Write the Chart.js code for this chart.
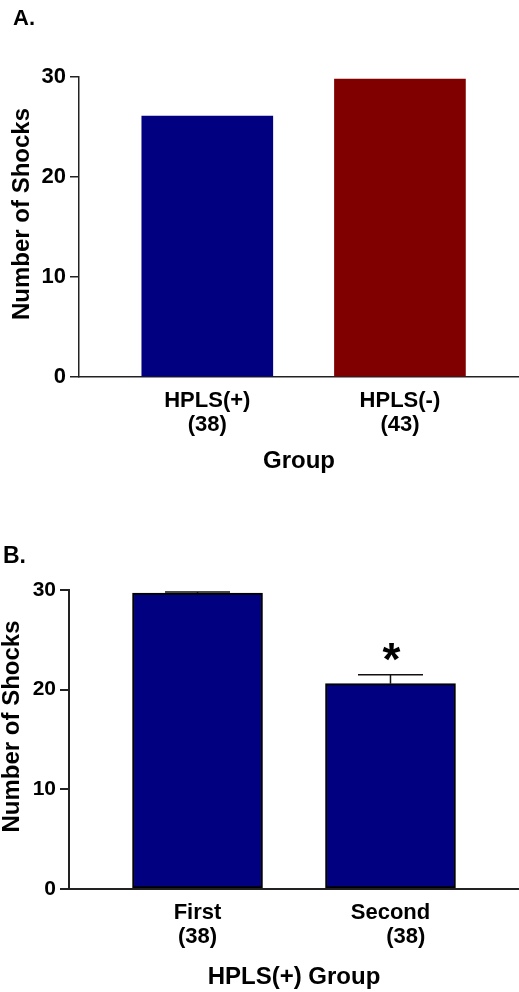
<!DOCTYPE html>
<html>
<head>
<meta charset="utf-8">
<script src="https://cdn.jsdelivr.net/npm/chart.js@4"></script>
<style>
  html, body { margin: 0; padding: 0; background: #fff; }
  canvas { display: block; }
</style>
</head>
<body>
<canvas id="panelA" width="519" height="496"></canvas>
<canvas id="panelB" width="519" height="496"></canvas>
<script>
// Panel A: shocks by HPLS group
const groupsA = ['HPLS(+)', 'HPLS(-)'];
const countsA = ['(38)', '(43)'];
const shocksA = [26.1, 29.8];
const colorsA = ['#000080', '#800000'];

// Panel B: first vs second session within HPLS(+)
const sessionsB = ['First', 'Second'];
const countsB = ['(38)', '(38)'];
const shocksB = [29.7, 20.6];
const semB = [0.1, 0.9];
const starsB = ['', '*'];

const yTicks = [0, 10, 20, 30];
const FONT = '"Liberation Sans", Arial, Helvetica, sans-serif';
const AXIS = '#222';

// panel letter + rotated y title, drawn on top of the chart
const panelText = {
  id: 'panelText',
  afterDraw(chart, args, opts) {
    const { ctx, chartArea } = chart;
    ctx.save();
    ctx.fillStyle = '#000';
    ctx.font = `bold ${opts.letterSize}px ${FONT}`;
    ctx.textAlign = 'left';
    ctx.textBaseline = 'alphabetic';
    ctx.fillText(opts.letter, opts.letterX, opts.letterY);

    ctx.font = `bold ${opts.titleSize}px ${FONT}`;
    ctx.translate(opts.titleX, (chartArea.top + chartArea.bottom) / 2 + opts.titleShift);
    ctx.rotate(-Math.PI / 2);
    ctx.textAlign = 'center';
    ctx.textBaseline = 'middle';
    ctx.fillText(opts.title, 0, 0);
    ctx.restore();
  }
};

// upward SEM bars and significance marks, placed through the scales
const errorBars = {
  id: 'errorBars',
  afterDatasetsDraw(chart, args, opts) {
    if (!opts.sem) return;
    const { ctx, scales: { x, y } } = chart;
    ctx.save();
    ctx.strokeStyle = '#111';
    ctx.lineWidth = 1.5;
    opts.sem.forEach((s, i) => {
      const cx = x.getPixelForValue(i);
      const top = y.getPixelForValue(opts.means[i]);
      const tip = y.getPixelForValue(opts.means[i] + s);
      ctx.beginPath();
      ctx.moveTo(cx, top);
      ctx.lineTo(cx, tip);
      ctx.moveTo(cx - opts.capHalf, tip);
      ctx.lineTo(cx + opts.capHalf, tip);
      ctx.stroke();
      if (opts.stars[i]) {
        ctx.fillStyle = '#000';
        ctx.font = `bold 46px ${FONT}`;
        ctx.textAlign = 'center';
        ctx.textBaseline = 'alphabetic';
        ctx.fillText(opts.stars[i], cx + 1, tip);
      }
    });
    ctx.restore();
  }
};

function makePanel(canvas, cfg) {
  return new Chart(canvas.getContext('2d'), {
    type: 'bar',
    data: {
      datasets: [{
        data: cfg.values.map((v, i) => ({ x: i, y: v })),
        backgroundColor: cfg.colors,
        borderColor: '#000',
        borderWidth: cfg.barBorder,
        borderSkipped: false,
        barThickness: cfg.barWidth,
      }]
    },
    options: {
      responsive: false,
      animation: false,
      layout: { padding: { top: cfg.top, left: 0, right: 0, bottom: 0 } },
      plugins: {
        legend: { display: false },
        tooltip: { enabled: false },
        panelText: cfg.text,
        errorBars: cfg.err || {},
      },
      scales: {
        x: {
          type: 'linear',
          offset: false,
          bounds: 'data',
          min: cfg.xMin, max: cfg.xMax,
          afterBuildTicks: s => { s.ticks = cfg.labels.map((_, i) => ({ value: i })); },
          afterFit: s => { s.height = cfg.xHeight; },
          grid: { display: false, drawTicks: false, offset: false },
          border: { display: true, color: AXIS, width: cfg.axisWidth },
          ticks: {
            color: '#000', padding: cfg.tickPad, maxRotation: 0, autoSkip: false,
            font: { family: FONT, size: cfg.catSize, weight: 'bold', lineHeight: 1.1 },
            callback: v => [cfg.labels[v], (v === 1 ? cfg.nLead : '') + cfg.counts[v]],
          },
          title: {
            display: true, text: cfg.xTitle, color: '#000',
            font: { family: FONT, size: 24, weight: 'bold' },
            padding: { top: 0, bottom: cfg.xTitlePad },
          },
        },
        y: {
          min: 0, max: 30,
          afterBuildTicks: s => { s.ticks = yTicks.map(v => ({ value: v })); },
          afterFit: s => { s.width = cfg.yWidth; },
          grid: { drawOnChartArea: false, drawTicks: true, tickLength: 9, color: AXIS, lineWidth: cfg.axisWidth },
          border: { display: true, color: AXIS, width: cfg.axisWidth },
          ticks: {
            color: '#000', padding: 4,
            font: { family: FONT, size: cfg.tickSize, weight: 'bold' },
          },
        },
      },
    },
    plugins: [panelText, errorBars],
  });
}

makePanel(document.getElementById('panelA'), {
  values: shocksA, colors: colorsA, labels: groupsA, counts: countsA, nLead: '',
  barBorder: 0, barWidth: 131, top: 77, xHeight: 119, yWidth: 79,
  xMin: -0.666, xMax: 1.618, axisWidth: 1.5, tickPad: 12, catSize: 22, tickSize: 22,
  xTitle: 'Group', xTitlePad: 20,
  text: { letter: 'A.', letterSize: 22, letterX: 13, letterY: 25,
          title: 'Number of Shocks', titleSize: 24, titleX: 22, titleShift: -13 },
});

makePanel(document.getElementById('panelB'), {
  values: shocksB, colors: ['#000080', '#000080'], labels: sessionsB, counts: countsB, nLead: '     ',
  barBorder: 2, barWidth: 130, top: 94, xHeight: 103, yWidth: 69,
  xMin: -0.666, xMax: 1.666, axisWidth: 2, tickPad: 12, catSize: 22, tickSize: 21,
  xTitle: 'HPLS(+) Group', xTitlePad: 0,
  text: { letter: 'B.', letterSize: 23, letterX: 3, letterY: 67,
          title: 'Number of Shocks', titleSize: 24, titleX: 12, titleShift: -13 },
  err: { means: shocksB, sem: semB, stars: starsB, capHalf: 32.5 },
});
</script>
</body>
</html>
